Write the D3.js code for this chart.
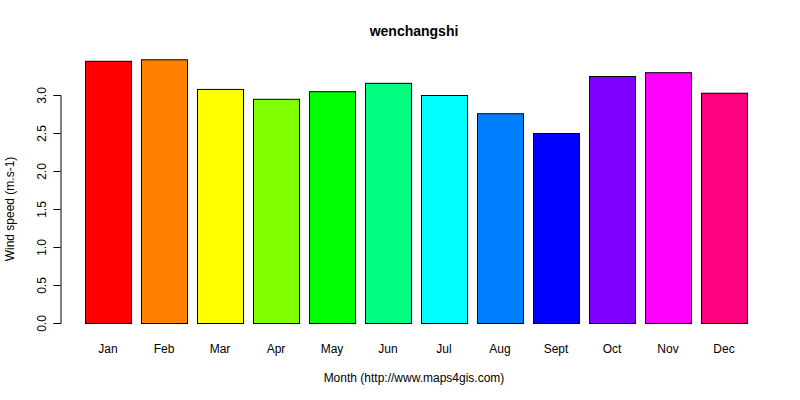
<!DOCTYPE html>
<html><head><meta charset="utf-8">
<script src="https://cdn.jsdelivr.net/npm/d3@7"></script>
<style>body{margin:0;background:#fff}text{font-family:"Liberation Sans",Arial,sans-serif}</style>
</head><body><svg id="c" width="800" height="400"></svg>
<script>
const months=["Jan","Feb","Mar","Apr","May","Jun","Jul","Aug","Sept","Oct","Nov","Dec"];
const values=[3.45,3.47,3.08,2.95,3.05,3.16,3.0,2.76,2.5,3.25,3.30,3.03];
const colors=["#FF0000","#FF8000","#FFFF00","#80FF00","#00FF00","#00FF80","#00FFFF","#0080FF","#0000FF","#8000FF","#FF00FF","#FF0080"];
const yTicks=[0,0.5,1,1.5,2,2.5,3];
const svg=d3.select("#c");
const x=d3.scaleBand().domain(months).range([75,757]).padding(10/56);
const y=d3.scaleLinear().domain([0,3]).range([323,95]);
svg.selectAll("rect").data(values).join("rect")
 .attr("x",(d,i)=>x(months[i])+0.5).attr("width",x.bandwidth())
 .attr("y",d=>y(d)+0.5).attr("height",d=>y(0)-y(d))
 .attr("fill",(d,i)=>colors[i]).attr("stroke","#000").attr("stroke-width",1);
const ya=svg.append("g").attr("transform","translate(60.5,0)")
 .call(d3.axisLeft(y).tickValues(yTicks).tickFormat(d3.format(".1f")).tickSizeOuter(0).tickSize(7));
ya.select(".domain").attr("stroke","#000");
ya.selectAll("text").attr("font-size",12).attr("fill","#000").attr("transform","rotate(-90)")
 .attr("x",0).attr("y",-19).attr("dy","0.35em").style("text-anchor","middle");
ya.selectAll("text").attr("dx",null);
svg.append("g").selectAll("text").data(months).join("text")
 .attr("x",d=>x(d)+x.bandwidth()/2).attr("y",353).attr("text-anchor","middle")
 .attr("font-size",12).text(d=>d);
svg.append("text").attr("x",414).attr("y",36).attr("text-anchor","middle")
 .attr("font-size",14).attr("font-weight","bold").text("wenchangshi");
svg.append("text").attr("x",414).attr("y",382).attr("text-anchor","middle")
 .attr("font-size",12).text("Month (http://www.maps4gis.com)");
svg.append("text").attr("transform","translate(14,209) rotate(-90)").attr("text-anchor","middle")
 .attr("font-size",12).text("Wind speed (m.s-1)");
</script></body></html>
